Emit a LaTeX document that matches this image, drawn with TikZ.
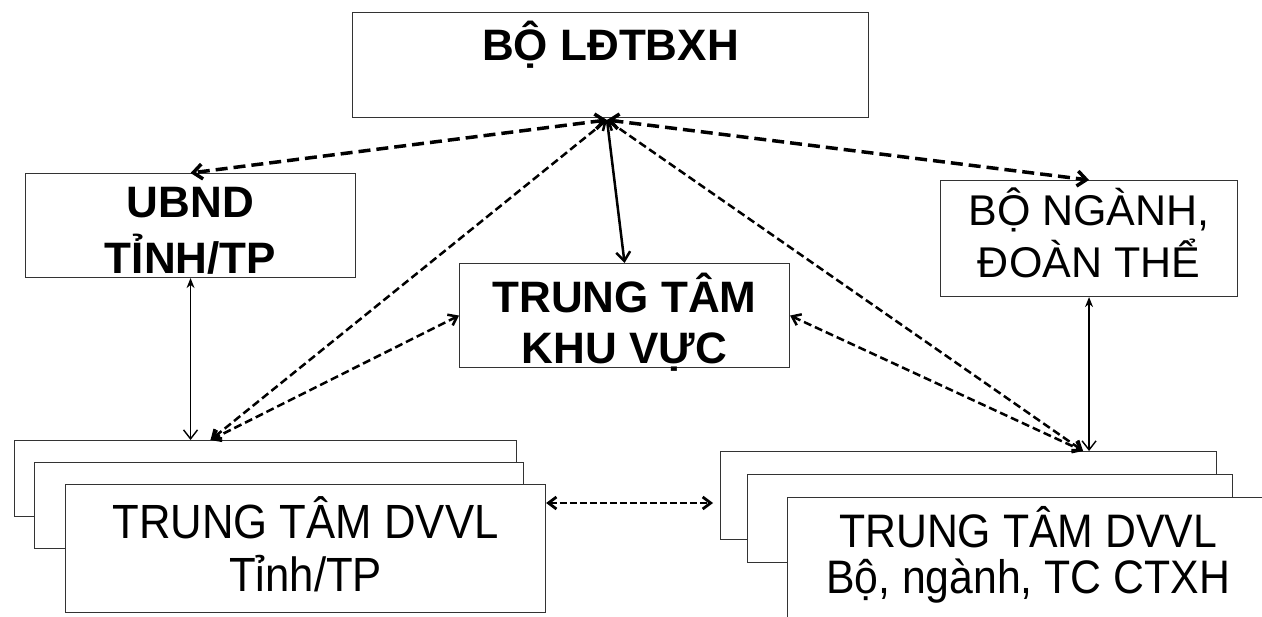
\documentclass[tikz,border=0pt]{standalone}
\usepackage{fontspec}
\setmainfont{Liberation Sans}
\newfontfamily\narrowsans[FakeStretch=0.91]{Liberation Sans}
\usetikzlibrary{arrows.meta,positioning}

\begin{document}
\begin{tikzpicture}[x=1pt, y=-1pt,
  orgbox/.style={draw=black!80, line width=1.1pt, fill=white, inner sep=0pt,
    align=center, anchor=north west},
  headbox/.style={orgbox, font=\fontsize{44}{54}\selectfont\bfseries},
  unitbox/.style={orgbox, font=\fontsize{43}{52}\selectfont},
  dvvlbox/.style={orgbox, font=\narrowsans\fontsize{48}{53}\selectfont},
  bigdash/.style={{Straight Barb[length=9pt,width=15pt]}-{Straight Barb[length=9pt,width=15pt]},
    line width=3.5pt, dash pattern=on 12pt off 6pt},
  smalldash/.style={{Straight Barb[length=8pt,width=12pt]}-{Straight Barb[length=8pt,width=12pt]},
    line width=2.5pt, dash pattern=on 8pt off 4pt},
  solidarr/.style={-{Straight Barb[length=9pt,width=14pt]}, line width=2.5pt},
  thinarr/.style={{Stealth[length=10pt,width=8pt]}-{Straight Barb[length=9pt,width=14pt]}, line width=1.4pt},
]
\useasboundingbox[fill=white] (0,0) rectangle (1262,617);

% ===== top level =====
\node[headbox, minimum width=516pt, text height=48pt, text depth=57pt] (bo) at (352,12) {BỘ LĐTBXH};
\coordinate (hub) at (607,120);

% ===== second level =====
\node[headbox, minimum width=330pt, text height=100pt, text depth=4pt, font=\fontsize{44}{56}\selectfont\bfseries] (ubnd) at (25,173) {UBND\\TỈNH/TP};
\node[unitbox, minimum width=297pt, text height=97pt, text depth=19pt] (nganh) at (940,180) {BỘ NGÀNH,\\ĐOÀN THỂ};
\node[headbox, minimum width=330pt, text height=100pt, text depth=4pt, font=\fontsize{44}{51}\selectfont\bfseries] (kv) at (459,263) {TRUNG TÂM\\KHU VỰC};

% ===== DVVL stacks =====
\node[orgbox, minimum width=502pt, minimum height=76pt] (lA) at (14,440) {};
\node[orgbox, minimum width=489pt, minimum height=86pt] (lB) at (34,462) {};
\node[dvvlbox, minimum width=480pt, text height=107pt, text depth=21pt] (lC) at (65,484) {TRUNG TÂM DVVL\\Tỉnh/TP};

\node[orgbox, minimum width=496pt, minimum height=88pt] (rA) at (720,451) {};
\node[orgbox, minimum width=485pt, minimum height=88pt] (rB) at (747,474) {};
\node[dvvlbox, minimum width=481pt, text height=96pt, text depth=47pt,
  font=\narrowsans\fontsize{47}{46}\selectfont] (rC) at (787,497) {TRUNG TÂM DVVL\\Bộ, ngành,\ TC CTXH};

\coordinate (lin) at ([xshift=20pt]ubnd.south |- lA.north);
\coordinate (rin) at ([xshift=-6pt]nganh.south |- rA.north);
\coordinate (hl) at ([yshift=-19pt]lC.north east);

% ===== connectors =====
\draw[bigdash] (hub) -- (ubnd.north);
\draw[bigdash] (hub) -- (nganh.north);
\draw[solidarr] (hub) -- (kv.north);
\draw[smalldash] (hub) -- (lin);
\draw[smalldash] (hub) -- (rin);
\draw[smalldash] (kv.west) -- (lin);
\draw[smalldash] (kv.east) -- (rin);
\draw[thinarr] (ubnd.south) -- (ubnd.south |- lA.north);
\draw[thinarr] (nganh.south) -- (nganh.south |- rA.north);
\draw[smalldash, line width=2.8pt, dash pattern=on 7pt off 3pt, shorten >=7pt] (hl) -- (hl -| rA.west);

\end{tikzpicture}
\end{document}
